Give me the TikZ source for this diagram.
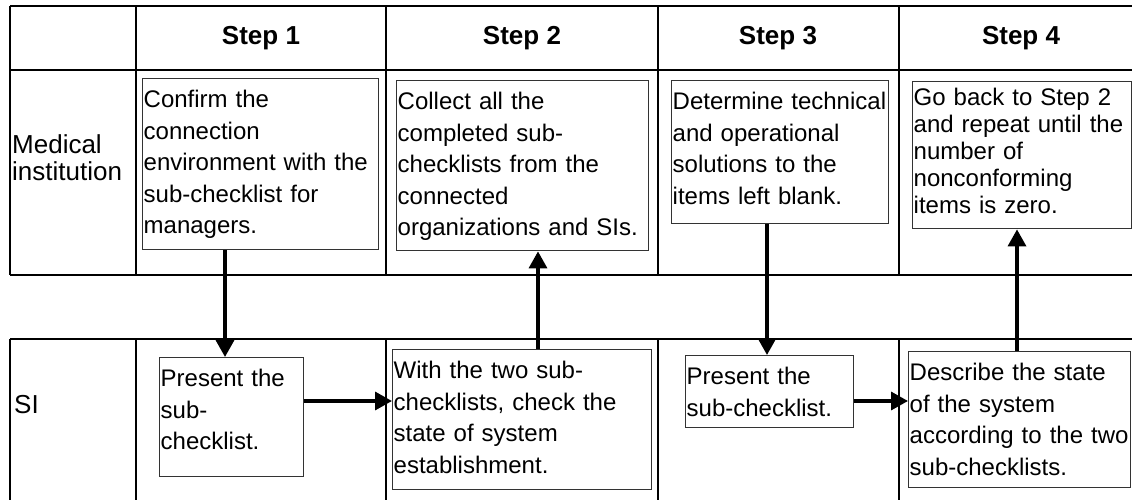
\documentclass[tikz,border=0pt]{standalone}
\usepackage{fontspec}
\setmainfont{Liberation Sans}
\usetikzlibrary{arrows.meta}
\hyphenpenalty=10000
\begin{document}
\begin{tikzpicture}[x=1pt,y=-1pt,
  grid/.style={line width=2pt, black},
  pbox/.style={draw=black!80, line width=1.4pt, anchor=north west, align=left,
    inner xsep=1pt, inner ysep=0pt, text height=29pt,
    font=\fontsize{24}{31.5}\selectfont},
  head/.style={font=\fontsize{26}{30}\selectfont\bfseries},
  lane/.style={anchor=west, align=left, inner sep=0pt, font=\fontsize{26}{27}\selectfont},
  flow/.style={line width=3.4pt, -{Triangle[length=17pt,width=18pt]}}]
\useasboundingbox (0,0) rectangle (1132,500);

% swim-lane table: header row, medical institution lane, SI lane
\draw[grid] (10,6) -- (1132,6) (10,70) -- (1132,70) (10,275) -- (1132,275)
            (10,339) -- (1132,339);
\foreach \x in {10,136,386,658,899} {
  \draw[grid] (\x,6) -- (\x,275);
  \draw[grid] (\x,339) -- (\x,500);
}

% column headers
\node[head] (h1) at (261,38) {Step 1};
\node[head] (h2) at (522,38) {Step 2};
\node[head] (h3) at (778,38) {Step 3};
\node[head] (h4) at (1021,38) {Step 4};

% lane labels
\node[lane] (mi) at (12,158) {Medical\\institution};
\node[lane] (si) at (14,405) {SI};

% medical institution tasks (text hangs from the top edge of each box)
\node[pbox, minimum width=236, text depth=142pt, text width=234pt] (b1) at (142,78)
  {Confirm the\\connection\\environment with the\\sub-checklist for\\managers.};
\node[pbox, minimum width=252, text depth=141pt, text width=250pt] (b2) at (396,80)
  {Collect all the\\completed sub-\\checklists from the\\connected\\organizations and SIs.};
\node[pbox, minimum width=217, text depth=114pt, text width=215pt] (b3) at (671,80)
  {Determine technical\\and operational\\solutions to the\\items left blank.};
\node[pbox, minimum width=219, text height=24pt, text depth=123pt, text width=217pt,
      font=\fontsize{24}{27}\selectfont] (b4) at (912,81)
  {Go back to Step 2\\and repeat until the\\number of\\nonconforming\\items is zero.};

% SI tasks
\node[pbox, minimum width=144, text depth=90pt, text width=142pt] (b5) at (159,357)
  {Present the\\sub-\\checklist.};
\node[pbox, minimum width=259, text depth=111pt, text width=257pt] (b6) at (392,349)
  {With the two sub-\\checklists, check the\\state of system\\establishment.};
\node[pbox, minimum width=168, text depth=43pt, text width=166pt] (b7) at (685,355)
  {Present the\\sub-checklist.};
\node[pbox, minimum width=222, text depth=107pt, text width=220pt] (b8) at (908,351)
  {Describe the state\\of the system\\according to the two\\sub-checklists.};

% connector tracks
\coordinate (v1) at (225,0);
\coordinate (v2) at (538,0);
\coordinate (v3) at (767,0);
\coordinate (v4) at (1017,0);
\coordinate (r1) at (0,401);

% flow between lanes
\draw[flow] (b1.south -| v1) -- (b5.north -| v1);
\draw[flow] (b6.north -| v2) -- (b2.south -| v2);
\draw[flow] (b3.south -| v3) -- (b7.north -| v3);
\draw[flow] (b8.north -| v4) -- (b4.south -| v4);
\draw[flow] (b5.east |- r1) -- (b6.west |- r1);
\draw[flow] (b7.east |- r1) -- (b8.west |- r1);
\end{tikzpicture}
\end{document}
